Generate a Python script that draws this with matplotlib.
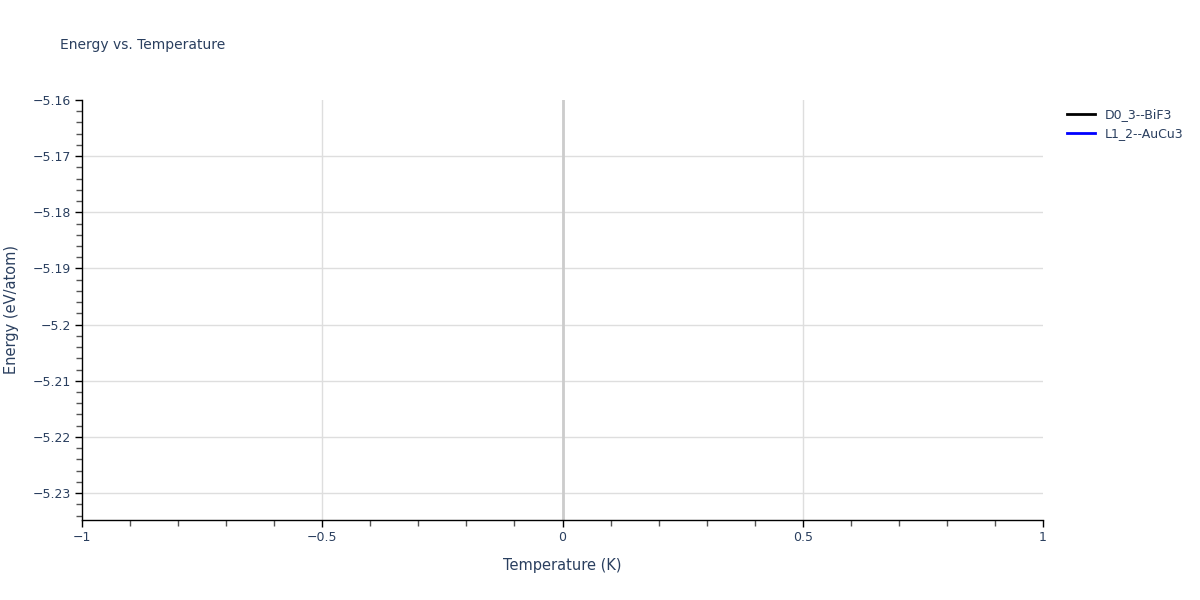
import matplotlib.pyplot as plt
from matplotlib.ticker import MultipleLocator, FuncFormatter

# ----------------------------- DATA -----------------------------
# The reference shows no visible data points, only the legend entries
series_names = ["D0_3--BiF3", "L1_2--AuCu3"]
series_colors = ["black", "blue"]
temperature = [[], []]
energy = [[], []]

x_range = (-1, 1)
y_range = (-5.2348, -5.16)

# ----------------------------- PLOT -----------------------------
text_color = "#2a3f5f"
plt.rcParams["font.family"] = ["DejaVu Sans"]

fig = plt.figure(figsize=(12, 6), dpi=100)
ax = fig.add_axes([82 / 1200, 80 / 600, (1043 - 82) / 1200, 420 / 600])

for name, color, t, e in zip(series_names, series_colors, temperature, energy):
    ax.plot(t, e, color=color, linewidth=2, label=name)

ax.set_xlim(*x_range)
ax.set_ylim(*y_range)

ax.xaxis.set_major_locator(MultipleLocator(0.5))
ax.xaxis.set_minor_locator(MultipleLocator(0.1))
ax.yaxis.set_major_locator(MultipleLocator(0.01))
ax.yaxis.set_minor_locator(MultipleLocator(0.002))


def fmt(v, pos):
    s = ("%.2f" % v).rstrip("0").rstrip(".")
    if s in ("-0", "0"):
        s = "0"
    return s.replace("-", "\u2212")


ax.xaxis.set_major_formatter(FuncFormatter(fmt))
ax.yaxis.set_major_formatter(FuncFormatter(fmt))

ax.grid(True, which="major", color="#dedede", linewidth=1)
ax.axvline(0, color="#cccccc", linewidth=2, zorder=1)
ax.set_axisbelow(True)

for side in ("top", "right"):
    ax.spines[side].set_visible(False)
for side in ("left", "bottom"):
    ax.spines[side].set_color("black")
    ax.spines[side].set_linewidth(1)

ax.tick_params(which="major", direction="out", length=5, width=1,
               color="black", labelcolor=text_color, labelsize=9, pad=3)
ax.tick_params(which="minor", direction="out", length=4, width=1, color="#555555")

ax.set_xlabel("Temperature (K)", color=text_color, fontsize=10.5, labelpad=10)
ax.set_ylabel("Energy (eV/atom)", color=text_color, fontsize=10.5, labelpad=10)
fig.text(60 / 1200, 1 - 45 / 600, "Energy vs. Temperature", color=text_color,
         fontsize=10, va="center", ha="left")

leg = ax.legend(loc="upper left", bbox_to_anchor=(1.02, 0.993), frameon=False,
                fontsize=9, handlelength=2.2, labelcolor=text_color,
                borderaxespad=0)

# hide grid lines that sit on the plot edges
fig.canvas.draw()
for axis, lims in ((ax.xaxis, x_range), (ax.yaxis, y_range)):
    for tick in axis.get_major_ticks():
        loc = tick.get_loc()
        if abs(loc - lims[0]) < 1e-6 or abs(loc - lims[1]) < 1e-6:
            tick.gridline.set_visible(False)

fig.savefig("out.png", dpi=100)
